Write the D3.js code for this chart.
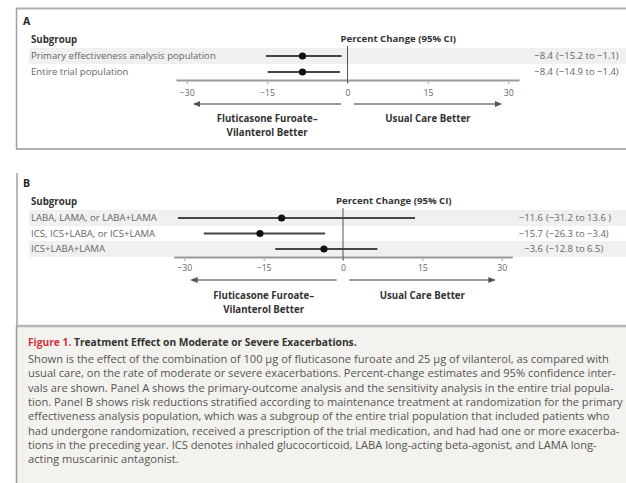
<!DOCTYPE html>
<html>
<head>
<meta charset="utf-8">
<style>
  body { margin: 0; background: #fff; }
  text { font-family: "Open Sans", "Lato", sans-serif; }
</style>
</head>
<body>
<script src="https://cdn.jsdelivr.net/npm/d3@7"></script>
<script>
// panel A data
var rowsA = ["Primary effectiveness analysis population", "Entire trial population"];
var estA = [-8.4, -8.4];
var lowA = [-15.2, -14.9];
var highA = [-1.1, -1.4];
var estTextA = ["\u22128.4", "\u22128.4"];
var ciTextA = ["(\u221215.2 to \u22121.1)", "(\u221214.9 to \u22121.4)"];

// panel B data
var rowsB = ["LABA, LAMA, or LABA+LAMA", "ICS, ICS+LABA, or ICS+LAMA", "ICS+LABA+LAMA"];
var estB = [-11.6, -15.7, -3.6];
var lowB = [-31.2, -26.3, -12.8];
var highB = [13.6, -3.4, 6.5];
var estTextB = ["\u221211.6", "\u221215.7", "\u22123.6"];
var ciTextB = ["(\u221231.2 to 13.6 )", "(\u221226.3 to \u22123.4)", "(\u221212.8 to 6.5)"];

var ticks = [-30, -15, 0, 15, 30];
var leftLabel = ["Fluticasone Furoate\u2013", "Vilanterol Better"];
var rightLabel = "Usual Care Better";

var captionTitle = "Treatment Effect on Moderate or Severe Exacerbations.";
var captionLines = [
  "Shown is the effect of the combination of 100 \u03bcg of fluticasone furoate and 25 \u03bcg of vilanterol, as compared with",
  "usual care, on the rate of moderate or severe exacerbations. Percent-change estimates and 95% confidence inter-",
  "vals are shown. Panel A shows the primary-outcome analysis and the sensitivity analysis in the entire trial popula-",
  "tion. Panel B shows risk reductions stratified according to maintenance treatment at randomization for the primary",
  "effectiveness analysis population, which was a subgroup of the entire trial population that included patients who",
  "had undergone randomization, received a prescription of the trial medication, and had had one or more exacerba-",
  "tions in the preceding year. ICS denotes inhaled glucocorticoid, LABA long-acting beta-agonist, and LAMA long-",
  "acting muscarinic antagonist."
];

var W = 626, H = 483;
var svg = d3.select("body").append("svg")
  .attr("width", W).attr("height", H);

svg.append("defs").append("marker")
  .attr("id", "arr")
  .attr("viewBox", "0 0 10 10")
  .attr("refX", 8).attr("refY", 5)
  .attr("markerWidth", 5).attr("markerHeight", 5)
  .attr("orient", "auto-start-reverse")
  .append("path")
  .attr("d", "M0,1 L10,5 L0,9 Z")
  .attr("fill", "#555");

// frames
svg.append("line").attr("x1", 16).attr("x2", W).attr("y1", 8.5).attr("y2", 8.5)
  .attr("stroke", "#b0b0b0").attr("stroke-width", 2);
svg.append("line").attr("x1", 16).attr("x2", W).attr("y1", 149).attr("y2", 149)
  .attr("stroke", "#b0b0b0").attr("stroke-width", 2);
svg.append("line").attr("x1", 16.5).attr("x2", 16.5).attr("y1", 8).attr("y2", 149)
  .attr("stroke", "#a0a0a0").attr("stroke-width", 1.5);
svg.append("line").attr("x1", 17).attr("x2", 17).attr("y1", 173).attr("y2", 326)
  .attr("stroke", "#a0a0a0").attr("stroke-width", 1.5);

function drawPanel(opt) {
  var g = svg.append("g");
  var x = d3.scaleLinear().domain([-32, 32]).range(opt.range);
  var top = opt.top;
  var rowY = function(i) { return top + 31 + i * opt.rowH; };
  var axisY = rowY(opt.rows.length - 1) + 8;

  g.append("text").attr("x", 23).attr("y", top)
    .attr("font-size", 10.5).attr("font-weight", "bold").attr("fill", "#222")
    .text(opt.letter);
  g.append("text").attr("x", 31).attr("y", top + 18)
    .attr("font-size", 9.7).attr("font-weight", "bold").attr("fill", "#333")
    .text("Subgroup");
  g.append("text").attr("x", x(0) - 7).attr("y", top + 17)
    .attr("font-size", 9.6).attr("font-weight", "bold").attr("fill", "#333")
    .text("Percent Change (95% CI)");

  // shaded bands
  g.selectAll("rect.band").data(opt.rows).enter()
    .filter(function(d, i) { return i % 2 === 0; })
    .append("rect")
    .attr("x", 29).attr("width", W - 29)
    .attr("y", function(d) { return rowY(opt.rows.indexOf(d)) - 8; })
    .attr("height", 16)
    .attr("fill", "#f0f0f0");

  g.selectAll("text.row").data(opt.rows).enter()
    .append("text")
    .attr("x", 31).attr("y", function(d, i) { return rowY(i) + 3; })
    .attr("font-size", 9.6).attr("fill", "#666")
    .text(function(d) { return d; });

  // axis
  var axis = d3.axisBottom(x).tickValues(ticks).tickSize(4).tickSizeOuter(0)
    .tickFormat(d3.format("d"));
  var ag = g.append("g").attr("transform", "translate(0," + axisY + ")").call(axis);
  ag.select(".domain").attr("stroke", "#999").attr("stroke-width", 2);
  ag.selectAll(".tick line").attr("stroke", "#aaa");
  ag.selectAll(".tick text").attr("font-size", 8.7).attr("fill", "#666")
    .attr("font-family", "'Open Sans', sans-serif").attr("dy", "0").attr("y", opt.tickDy);

  // zero line
  g.append("line").attr("x1", x(0)).attr("x2", x(0))
    .attr("y1", rowY(0) - 10).attr("y2", axisY + 3)
    .attr("stroke", "#555").attr("stroke-width", 1);

  // CI lines and points
  g.selectAll("line.ci").data(opt.rows).enter()
    .append("line")
    .attr("x1", function(d, i) { return x(opt.low[i]); })
    .attr("x2", function(d, i) { return x(opt.high[i]); })
    .attr("y1", function(d, i) { return rowY(i); })
    .attr("y2", function(d, i) { return rowY(i); })
    .attr("stroke", "#444").attr("stroke-width", 2);
  g.selectAll("circle").data(opt.est).enter()
    .append("circle")
    .attr("cx", function(d) { return x(d); })
    .attr("cy", function(d, i) { return rowY(i); })
    .attr("r", 3.6).attr("fill", "#111");

  // estimate text
  g.selectAll("text.est").data(opt.estText).enter()
    .append("text")
    .attr("x", opt.parenX - 3).attr("y", function(d, i) { return rowY(i) + 3; })
    .attr("text-anchor", "end")
    .attr("font-size", 9.5).attr("fill", "#666")
    .text(function(d) { return d; });
  g.selectAll("text.ci").data(opt.ciText).enter()
    .append("text")
    .attr("x", opt.parenX).attr("y", function(d, i) { return rowY(i) + 3; })
    .attr("font-size", 9.5).attr("fill", "#666")
    .text(function(d) { return d; });

  // arrows
  var arrY = axisY + opt.arrDy;
  g.append("line").attr("x1", x(-1.2)).attr("x2", x(-28.6))
    .attr("y1", arrY).attr("y2", arrY)
    .attr("stroke", "#777").attr("stroke-width", 1.5).attr("marker-end", "url(#arr)");
  g.append("line").attr("x1", x(1.2)).attr("x2", x(28.6))
    .attr("y1", arrY).attr("y2", arrY)
    .attr("stroke", "#777").attr("stroke-width", 1.5).attr("marker-end", "url(#arr)");

  g.selectAll("text.left").data(leftLabel).enter()
    .append("text")
    .attr("x", x(-15)).attr("y", function(d, i) { return axisY + 42 + i * 13.5; })
    .attr("text-anchor", "middle")
    .attr("font-size", 9.7).attr("font-weight", "bold").attr("fill", "#333")
    .text(function(d) { return d; });
  g.append("text").attr("x", x(15)).attr("y", axisY + 42)
    .attr("text-anchor", "middle")
    .attr("font-size", 9.7).attr("font-weight", "bold").attr("fill", "#333")
    .text(rightLabel);
}

drawPanel({ letter: "A", top: 25, rows: rowsA, est: estA, low: lowA, high: highA,
  estText: estTextA, ciText: ciTextA, range: [176, 519], rowH: 16,
  parenX: 556, tickDy: 16, arrDy: 24 });
drawPanel({ letter: "B", top: 187, rows: rowsB, est: estB, low: lowB, high: highB,
  estText: estTextB, ciText: ciTextB, range: [173.7, 512.3], rowH: 15.5,
  parenX: 546, tickDy: 14, arrDy: 23 });

// caption
svg.append("rect").attr("x", 16).attr("y", 326).attr("width", W - 16).attr("height", H - 326)
  .attr("fill", "#f4f2ee");
svg.append("line").attr("x1", 16).attr("x2", W).attr("y1", 326).attr("y2", 326)
  .attr("stroke", "#b5b5b5").attr("stroke-width", 2.5);
svg.append("line").attr("x1", 16.5).attr("x2", 16.5).attr("y1", 326).attr("y2", H)
  .attr("stroke", "#999").attr("stroke-width", 1.5);

var title = svg.append("text").attr("x", 28).attr("y", 346)
  .attr("font-size", 10).attr("font-weight", "bold");
title.append("tspan").attr("fill", "#d0313a").text("Figure 1. ");
title.append("tspan").attr("fill", "#333").text(captionTitle);
// fit title to its width in the reference (about 329px)
var tw = title.node().getComputedTextLength();
title.attr("font-size", 10 * 329 / tw);

var cap = svg.selectAll("text.cap").data(captionLines).enter()
  .append("text")
  .attr("x", 28).attr("y", function(d, i) { return 363 + i * 14.3; })
  .attr("font-size", 10).attr("fill", "#555")
  .text(function(d) { return d; });
// longest line (index 3) spans about 595px
var lw = cap.nodes()[3].getComputedTextLength();
cap.attr("font-size", 10 * 595 / lw);
</script>
</body>
</html>
